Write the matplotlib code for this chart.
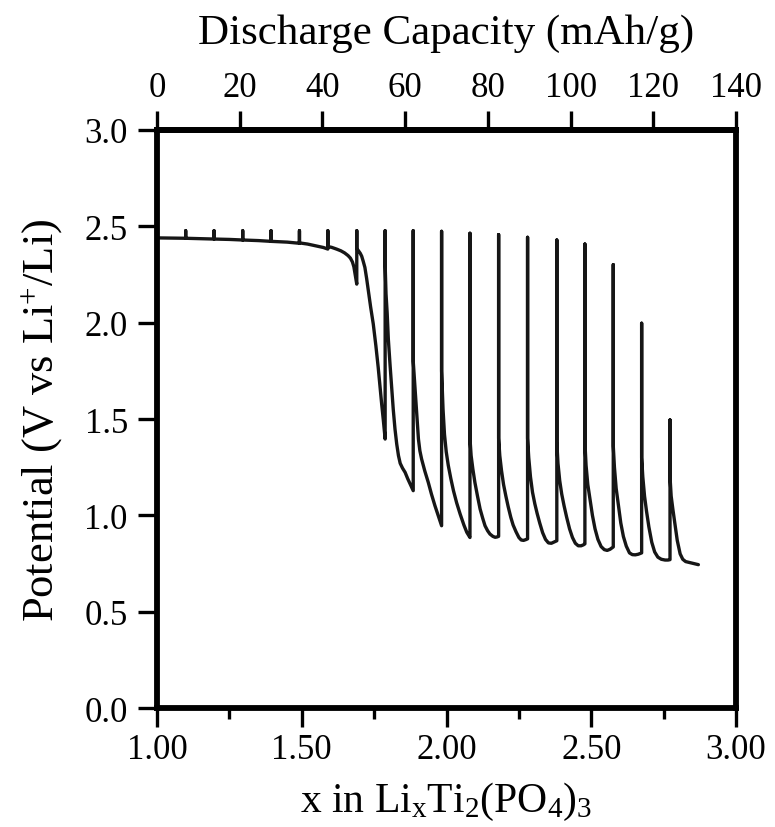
import matplotlib
matplotlib.use("Agg")
import matplotlib.pyplot as plt
from matplotlib.ticker import MultipleLocator

plt.rcParams["font.family"] = ["Liberation Serif", "DejaVu Serif"]
plt.rcParams["mathtext.fontset"] = "custom"
plt.rcParams["mathtext.rm"] = "Liberation Serif"
plt.rcParams["mathtext.it"] = "Liberation Serif:italic"

# GITT discharge trace: x in LixTi2(PO4)3 vs potential (V);
# each row is one current pulse followed by its relaxed (rest) potential
x_li = [
    1.000, 1.050, 1.099, 1.099,
    1.099, 1.150, 1.197, 1.197,
    1.197, 1.250, 1.296, 1.296,
    1.296, 1.350, 1.394, 1.394,
    1.394, 1.450, 1.492, 1.492,
    1.492, 1.520, 1.550, 1.575, 1.590, 1.590,
    1.590, 1.603, 1.620, 1.635, 1.648, 1.660, 1.668, 1.675, 1.680, 1.684, 1.687, 1.690, 1.690,
    1.690, 1.695, 1.702, 1.707, 1.712, 1.718, 1.724, 1.730, 1.738, 1.747, 1.756, 1.764, 1.770,
    1.776, 1.782, 1.788, 1.788,
    1.788, 1.791, 1.795, 1.799, 1.805, 1.811, 1.816, 1.822, 1.828, 1.834, 1.840, 1.848, 1.857,
    1.866, 1.876, 1.885, 1.885,
    1.885, 1.893, 1.898, 1.903, 1.908, 1.914, 1.925, 1.937, 1.948, 1.960, 1.972, 1.983, 1.983,
    1.983, 1.988, 1.993, 1.999, 2.006, 2.015, 2.024, 2.035, 2.047, 2.060, 2.070, 2.081, 2.081,
    2.081, 2.085, 2.091, 2.098, 2.107, 2.116, 2.125, 2.133, 2.142, 2.150, 2.160, 2.168, 2.175,
    2.180, 2.180,
    2.180, 2.184, 2.190, 2.197, 2.205, 2.213, 2.222, 2.230, 2.240, 2.250, 2.258, 2.266, 2.274,
    2.280, 2.280,
    2.280, 2.284, 2.290, 2.297, 2.305, 2.313, 2.322, 2.332, 2.342, 2.352, 2.362, 2.372, 2.381,
    2.381,
    2.381, 2.385, 2.391, 2.398, 2.406, 2.415, 2.425, 2.435, 2.445, 2.455, 2.465, 2.473, 2.478,
    2.478,
    2.478, 2.482, 2.488, 2.496, 2.504, 2.513, 2.523, 2.534, 2.545, 2.555, 2.565, 2.576, 2.576,
    2.576, 2.580, 2.586, 2.594, 2.602, 2.611, 2.621, 2.632, 2.642, 2.652, 2.662, 2.674, 2.674,
    2.674, 2.678, 2.684, 2.691, 2.699, 2.709, 2.719, 2.730, 2.742, 2.755, 2.765, 2.772, 2.772,
    2.772, 2.776, 2.782, 2.789, 2.797, 2.807, 2.816, 2.826, 2.840, 2.855, 2.870,
]
potential = [
    2.440, 2.439, 2.438, 2.477,
    2.438, 2.436, 2.434, 2.477,
    2.434, 2.432, 2.429, 2.477,
    2.429, 2.426, 2.422, 2.477,
    2.422, 2.418, 2.412, 2.477,
    2.414, 2.408, 2.398, 2.390, 2.382, 2.477,
    2.395, 2.391, 2.382, 2.373, 2.362, 2.348, 2.335, 2.315, 2.290, 2.253, 2.225, 2.200, 2.477,
    2.385, 2.375, 2.360, 2.345, 2.320, 2.287, 2.230, 2.166, 2.080, 1.993, 1.880, 1.768, 1.673,
    1.578, 1.490, 1.396, 2.477,
    2.300, 2.150, 2.050, 1.915, 1.780, 1.656, 1.550, 1.448, 1.370, 1.310, 1.270, 1.245, 1.223,
    1.190, 1.158, 1.128, 2.477,
    1.800, 1.620, 1.500, 1.396, 1.335, 1.292, 1.230, 1.171, 1.110, 1.050, 0.995, 0.946, 2.474,
    1.750, 1.550, 1.420, 1.330, 1.260, 1.190, 1.128, 1.065, 1.007, 0.950, 0.912, 0.885, 2.464,
    1.400, 1.310, 1.240, 1.171, 1.100, 1.033, 0.985, 0.946, 0.920, 0.903, 0.891, 0.886, 0.888,
    0.891, 2.457,
    1.400, 1.310, 1.232, 1.160, 1.100, 1.045, 0.990, 0.950, 0.915, 0.885, 0.872, 0.870, 0.874,
    0.878, 2.443,
    1.400, 1.300, 1.200, 1.120, 1.060, 1.010, 0.960, 0.910, 0.875, 0.857, 0.855, 0.862, 0.868,
    2.429,
    1.380, 1.270, 1.180, 1.110, 1.050, 0.990, 0.930, 0.885, 0.855, 0.842, 0.842, 0.847, 0.852,
    2.408,
    1.380, 1.260, 1.160, 1.080, 1.000, 0.930, 0.875, 0.838, 0.822, 0.818, 0.824, 0.836, 2.301,
    1.360, 1.250, 1.140, 1.050, 0.960, 0.890, 0.840, 0.805, 0.796, 0.795, 0.798, 0.805, 1.997,
    1.300, 1.200, 1.100, 1.020, 0.940, 0.860, 0.810, 0.783, 0.772, 0.768, 0.768, 0.770, 1.495,
    1.200, 1.100, 1.030, 0.955, 0.870, 0.800, 0.772, 0.760, 0.755, 0.750, 0.744,
]

x_ticks = [1.00, 1.50, 2.00, 2.50, 3.00]
v_ticks = [0.0, 0.5, 1.0, 1.5, 2.0, 2.5, 3.0]
cap_ticks = [0, 20, 40, 60, 80, 100, 120, 140]
cap_per_x = 70.0  # mAh/g per Li inserted

fig = plt.figure(figsize=(7.75, 8.28), dpi=100)
ax = fig.add_axes([0.2026, 0.1437, 0.7471, 0.6981])

ax.plot(x_li, potential, color="#161616", lw=2.4,
        solid_joinstyle="round", solid_capstyle="round")

ax.set_xlim(1.0, 3.0)
ax.set_ylim(0.0, 3.0)
ax.set_xticks(x_ticks)
ax.set_xticklabels([f"{v:.2f}" for v in x_ticks])
ax.xaxis.set_minor_locator(MultipleLocator(0.25))
ax.set_yticks(v_ticks)
ax.set_yticklabels([f"{v:.1f}" for v in v_ticks])

for s in ax.spines.values():
    s.set_linewidth(4.2)
    s.set_color("black")

ax.tick_params(axis="x", which="major", direction="out", length=14, width=2.4,
               labelsize=25, pad=4, top=False)
ax.tick_params(axis="x", which="minor", direction="out", length=8, width=2.4, top=False)
ax.tick_params(axis="y", which="major", direction="out", length=14, width=2.4,
               labelsize=25, pad=7, right=False)

ax.set_xlabel(r"x in Li$_{\mathrm{x}}$Ti$_2$(PO$_4$)$_3$", fontsize=30, labelpad=10)
ax.set_ylabel(r"Potential (V vs Li$^{+}$/Li)", fontsize=32, labelpad=14)

top = ax.secondary_xaxis("top", functions=(lambda x: (x - 1.0) * cap_per_x,
                                           lambda c: 1.0 + c / cap_per_x))
top.set_xticks(cap_ticks)
top.set_xticklabels([str(c) for c in cap_ticks])
top.tick_params(axis="x", direction="out", length=14, width=2.4, labelsize=25, pad=5)
top.spines["top"].set_linewidth(4.2)
top.set_xlabel("Discharge Capacity (mAh/g)", fontsize=31, labelpad=20)

fig.savefig("out.png", dpi=100, facecolor="white")
